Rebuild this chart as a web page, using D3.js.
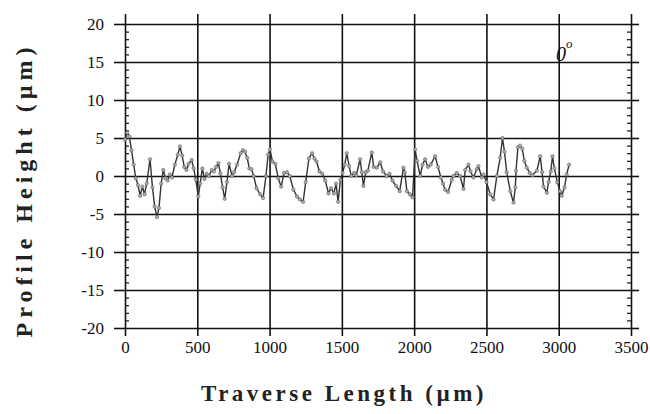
<!DOCTYPE html>
<html>
<head>
<meta charset="utf-8">
<script src="https://cdn.jsdelivr.net/npm/d3@7"></script>
<style>
    body { margin:0; background:#fff; }
    svg { display:block; }
</style>
</head>
<body>
<svg id="svg__container" width="650" height="414"></svg>
<script>
// 측정 위치 (um) / 프로파일 높이 (um)
const traverse=[
    0,15,30,45,60,75,90,105,120,135,150,173,190,205,221,235,250,265,280,295,
    310,325,345,365,380,395,410,425,440,461,475,490,507,520,535,550,565,580,600,615,
    630,646,660,675,690,705,720,740,755,775,800,815,830,845,860,875,890,910,935,955,
    975,990,1003,1020,1040,1060,1080,1100,1120,1140,1165,1190,1210,1232,1250,1272,1294,1310,1325,1345,
    1365,1385,1408,1425,1445,1460,1474,1490,1505,1520,1534,1550,1565,1585,1600,1626,1638,1649,1665,1680,
    1707,1720,1742,1765,1785,1810,1830,1850,1875,1900,1926,1935,1950,1970,1989,2007,2020,2042,2058,2076,
    2095,2115,2145,2165,2185,2200,2214,2235,2260,2272,2295,2318,2341,2353,2376,2390,2410,2433,2445,2468,
    2480,2500,2526,2549,2572,2595,2611,2625,2640,2665,2687,2700,2705,2718,2732,2748,2762,2779,2800,2818,
    2849,2872,2885,2895,2918,2930,2945,2957,2970,2990,3010,3021,3040,3055,3072
];
const heights=[
    4.8,5.7,5.2,3.4,1.5,-0.3,-1.2,-2.6,-1.4,-2.4,-1.0,2.2,-1.5,-4.0,-5.4,-4.2,-1.0,0.8,-0.3,-0.6,
    0.2,-0.2,1.5,2.8,3.9,2.7,1.2,0.8,1.6,2.1,1.0,-0.5,-2.7,-1.0,1.0,-0.4,0.3,0.0,0.8,0.6,
    1.2,1.7,0.3,-1.5,-3.0,-0.8,1.6,0.0,0.5,1.5,3.0,3.4,3.2,2.4,1.0,0.9,0.0,-1.6,-2.4,-2.9,
    0.0,2.8,3.5,1.9,1.6,-0.3,-1.4,0.4,0.5,0.0,-1.8,-2.7,-3.1,-3.4,-0.8,2.3,3.0,2.3,1.9,0.6,
    0.3,-0.6,-2.3,-1.6,-2.3,-1.0,-3.4,-0.5,0.4,1.5,3.0,1.3,0.0,0.4,0.1,2.2,0.5,-1.3,0.5,0.7,
    3.1,1.2,1.1,1.8,0.6,0.0,0.3,-0.6,-1.3,-2.0,1.1,0.5,-2.0,-2.4,-2.8,3.5,2.0,0.0,1.5,2.2,
    1.2,1.5,2.6,1.2,-0.2,-1.0,-1.8,-2.1,-0.5,0.0,0.4,0.0,-1.7,0.8,1.5,0.6,-0.2,0.9,1.3,-0.2,
    0.2,-0.8,-2.4,-3.1,0.0,2.4,5.0,3.2,0.5,-2.0,-3.5,-1.5,0.7,3.8,4.0,3.6,2.0,1.1,0.4,0.1,
    0.7,2.6,0.5,-1.4,-2.2,-0.8,0.6,2.6,1.0,-0.8,-2.0,-2.6,-1.5,0.2,1.5
];
const xTicks=[0,500,1000,1500,2000,2500,3000,3500];
const yTicks=[-20,-15,-10,-5,0,5,10,15,20];
const yMinorTicks=d3.range(-20,21).filter(v=>v%5!==0);

const svgTag=d3.select("#svg__container");
const plotLeft=125, plotRight=631, plotTop=24, plotBottom=328;

const xScale=d3.scaleLinear().domain([0,3500]).range([plotLeft,plotRight]);
const yScale=d3.scaleLinear().domain([-20,20]).range([plotBottom,plotTop]);

const fontTick="'Times New Roman','Liberation Serif',serif";

// 격자선 (가로/세로)
const gridG=svgTag.append("g");
gridG.append("g")
    .attr("transform",`translate(${plotLeft},0)`)
    .call(d3.axisLeft(yScale).tickValues(yTicks).tickFormat("").tickSize(-(plotRight-plotLeft)).tickSizeOuter(0));
gridG.append("g")
    .attr("transform",`translate(0,${plotBottom})`)
    .call(d3.axisBottom(xScale).tickValues(xTicks).tickFormat("").tickSize(-(plotBottom-plotTop)).tickSizeOuter(0));
gridG.selectAll("path").remove();
gridG.selectAll("line").attr("stroke","#111").attr("stroke-width",1.6);

// 바깥쪽 눈금 + 라벨
function styleAxis(g) {
    g.attr("font-family",fontTick);
    g.select(".domain").remove();
    g.selectAll("line").attr("stroke","#111").attr("stroke-width",1.6);
    g.selectAll("text").attr("font-family",fontTick).attr("font-size",17).attr("fill","#111");
}
const leftAxis=svgTag.append("g")
    .attr("transform",`translate(${plotLeft},0)`)
    .call(d3.axisLeft(yScale).tickValues(yTicks).tickSize(11).tickPadding(10)
        .tickFormat(d=>String(d)));
styleAxis(leftAxis);

const bottomAxis=svgTag.append("g")
    .attr("transform",`translate(0,${plotBottom})`)
    .call(d3.axisBottom(xScale).tickValues(xTicks).tickSize(8).tickPadding(5)
        .tickFormat(d=>String(d)));
styleAxis(bottomAxis);

const topAxis=svgTag.append("g")
    .attr("transform",`translate(0,${plotTop})`)
    .call(d3.axisTop(xScale).tickValues(xTicks).tickSize(10).tickFormat(""));
styleAxis(topAxis);

const rightAxis=svgTag.append("g")
    .attr("transform",`translate(${plotRight},0)`)
    .call(d3.axisRight(yScale).tickValues(yTicks).tickSize(8).tickFormat(""));
styleAxis(rightAxis);

// 보조 눈금 (안쪽)
const leftMinor=svgTag.append("g")
    .attr("transform",`translate(${plotLeft},0)`)
    .call(d3.axisRight(yScale).tickValues(yMinorTicks).tickSize(4).tickFormat(""));
styleAxis(leftMinor);
leftMinor.selectAll("line").attr("stroke-width",1.2);
const rightMinor=svgTag.append("g")
    .attr("transform",`translate(${plotRight},0)`)
    .call(d3.axisLeft(yScale).tickValues(yMinorTicks).tickSize(4).tickFormat(""));
styleAxis(rightMinor);
rightMinor.selectAll("line").attr("stroke-width",1.2);

// 프로파일 선
const points=traverse.map((t,i)=>({ t, h: heights[i] }));
const profileLine=d3.line().x(d=>xScale(d.t)).y(d=>yScale(d.h));
svgTag.append("path")
    .datum(points)
    .attr("d",profileLine)
    .attr("fill","none")
    .attr("stroke","#333")
    .attr("stroke-width",1.4)
    .attr("stroke-linejoin","round");
svgTag.append("g").selectAll("circle")
    .data(points)
    .join("circle")
    .attr("cx",d=>xScale(d.t)).attr("cy",d=>yScale(d.h))
    .attr("r",1.7)
    .attr("fill","#aaa")
    .attr("stroke","#555")
    .attr("stroke-width",0.5);

// 각도 표시
const angleText=svgTag.append("text")
    .attr("x",556).attr("y",61)
    .attr("font-family",fontTick).attr("font-size",20).attr("font-style","italic")
    .attr("fill","#111")
    .text("0");
angleText.append("tspan")
    .attr("dy",-13).attr("font-size",13)
    .text("o");

// 축 제목
svgTag.append("text")
    .attr("x",344).attr("y",401)
    .attr("text-anchor","middle")
    .attr("font-family",fontTick).attr("font-size",23).attr("font-weight","bold")
    .attr("letter-spacing",3.5)
    .attr("fill","#222")
    .text("Traverse Length (\u00b5m)");
svgTag.append("text")
    .attr("transform","translate(32,190) rotate(-90)")
    .attr("text-anchor","middle")
    .attr("font-family",fontTick).attr("font-size",24).attr("font-weight","bold")
    .attr("letter-spacing",5)
    .attr("fill","#222")
    .text("Profile Height (\u00b5m)");
</script>
</body>
</html>
